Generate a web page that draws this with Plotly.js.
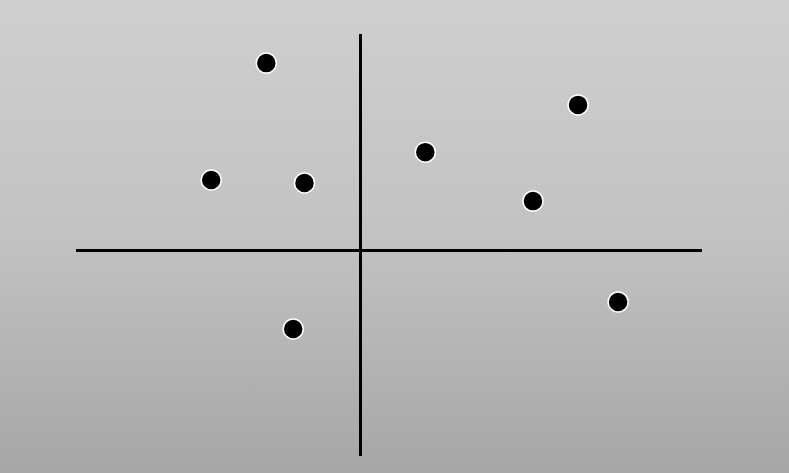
<!DOCTYPE html>
<html>
<head>
<meta charset="utf-8">
<script src="https://cdn.plot.ly/plotly-3.0.1.min.js"></script>
<style>
  html, body { margin: 0; padding: 0; width: 789px; height: 473px; overflow: hidden;
    background: linear-gradient(to bottom, #cfcfcf 0%, #c2c2c2 50%, #a6a6a6 100%); }
  #chart { width: 789px; height: 473px; }
</style>
</head>
<body>
<div id="chart"></div>
<script>
const xValues = [-1.5, 3.48, 1.04, -2.38, -0.89, 2.76, 4.12, -1.07];
const yValues = [4.43, 3.44, 2.32, 1.66, 1.59, 1.16, -1.23, -1.87];
const xRange = [-4.54, 5.46];
const yRange = [-4.88, 5.12];

const trace = {
  x: xValues,
  y: yValues,
  type: 'scatter',
  mode: 'markers',
  marker: { color: '#000000', size: 20, line: { color: '#ffffff', width: 1.5 } },
  hoverinfo: 'skip'
};

const axisBase = {
  showgrid: false,
  showticklabels: false,
  ticks: '',
  showline: false,
  zeroline: true,
  zerolinecolor: '#000000',
  zerolinewidth: 3,
  fixedrange: true
};

const layout = {
  width: 789,
  height: 473,
  margin: { l: 76, r: 87, t: 34, b: 17, pad: 0 },
  paper_bgcolor: 'rgba(0,0,0,0)',
  plot_bgcolor: 'rgba(0,0,0,0)',
  showlegend: false,
  xaxis: Object.assign({ range: xRange }, axisBase),
  yaxis: Object.assign({ range: yRange }, axisBase)
};

Plotly.newPlot('chart', [trace], layout, { displayModeBar: false, staticPlot: true });
</script>
</body>
</html>
